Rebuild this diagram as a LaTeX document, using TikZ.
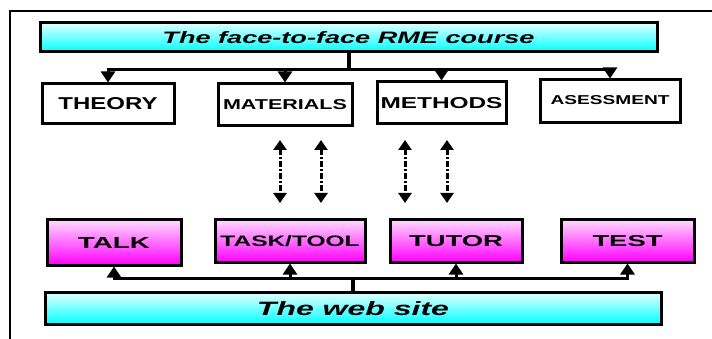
\documentclass[tikz,border=0pt]{standalone}
\usepackage{fontspec}
\setmainfont{Liberation Sans}
\usepackage{graphicx}
\usetikzlibrary{arrows.meta}
\newcommand\fittext[3]{\resizebox{#1pt}{#2pt}{#3}}
\begin{document}
\begin{tikzpicture}[x=1pt,y=-1pt,
 box/.style={draw=black,line width=3pt,inner sep=0pt,font=\bfseries},
 headbox/.style={box,top color=cyan!12,bottom color=cyan,font=\bfseries\itshape},
 toolbox/.style={box,top color=magenta!15,bottom color=magenta},
 plainbox/.style={box,fill=white},
 conn/.style={line width=3pt},
 stem/.style={line width=4pt},
 arr/.style={conn,-{Triangle[width=14pt,length=11pt]}},
 darr/.style={line width=3pt,dash pattern=on 6pt off 2pt on 2pt off 2pt,
   {Triangle[width=13pt,length=10pt]}-{Triangle[width=13pt,length=10pt]}}
]
\useasboundingbox (0,0) rectangle (712,339);
\fill[white] (0,0) rectangle (712,339);
% frame
\draw[line width=1.6pt] (712,11) -- (10,11) -- (10,339);

% header
\node[headbox,minimum width=617pt,minimum height=29pt] (course) at (348.5,37.5)
  {\fittext{372}{12}{The face-to-face RME course}};

% top row
\node[plainbox,minimum width=132pt,minimum height=40pt] (theory) at (108,104) {\fittext{99}{12}{THEORY}};
\node[plainbox,minimum width=134pt,minimum height=42pt] (materials) at (285,105) {\fittext{124}{10}{MATERIALS}};
\node[plainbox,minimum width=129pt,minimum height=42pt] (methods) at (441.5,103) {\fittext{122}{11}{METHODS}};
\node[plainbox,minimum width=140pt,minimum height=43pt] (asess) at (610,101.5) {\raisebox{3pt}{\fittext{119}{9}{ASESSMENT}}};

% bottom row
\node[toolbox,minimum width=134pt,minimum height=45pt] (talk) at (114,242.5) {\fittext{72}{11}{TALK}};
\node[toolbox,minimum width=150pt,minimum height=42pt] (task) at (290,241) {\fittext{139}{11}{TASK/TOOL}};
\node[toolbox,minimum width=132pt,minimum height=42pt] (tutor) at (456,241) {\fittext{94}{11}{TUTOR}};
\node[toolbox,minimum width=133pt,minimum height=42pt] (test) at (627.5,241) {\fittext{70}{11}{TEST}};

% web site
\node[headbox,minimum width=616pt,minimum height=32pt] (web) at (353,308.5)
  {\raisebox{1pt}{\fittext{192}{14}{The web site}}};

% top connectors
\draw[stem] (course.south) -- ++(0,16) coordinate (tbus);
\draw[conn,line cap=rect] (theory.north |- tbus) -- (asess.north |- tbus);
\foreach \n in {theory,materials,methods,asess}
  \draw[arr] (\n.north |- tbus) -- (\n.north);

% bottom connectors
\draw[stem] (web.north) -- ++(0,-13) coordinate (bbus);
\draw[conn,line cap=rect] (talk.south |- bbus) -- (test.south |- bbus);
\foreach \n in {talk,task,tutor,test}
  \draw[arr] (\n.south |- bbus) -- (\n.south);

% dashed double arrows
\coordinate (d1t) at (280,140); \coordinate (d1b) at (280,203);
\coordinate (d2t) at (321,140); \coordinate (d2b) at (321,203);
\coordinate (d3t) at (405,140); \coordinate (d3b) at (405,203);
\coordinate (d4t) at (447,140); \coordinate (d4b) at (447,203);
\draw[darr] (d1t) -- (d1b);
\draw[darr] (d2t) -- (d2b);
\draw[darr] (d3t) -- (d3b);
\draw[darr] (d4t) -- (d4b);
\end{tikzpicture}
\end{document}
